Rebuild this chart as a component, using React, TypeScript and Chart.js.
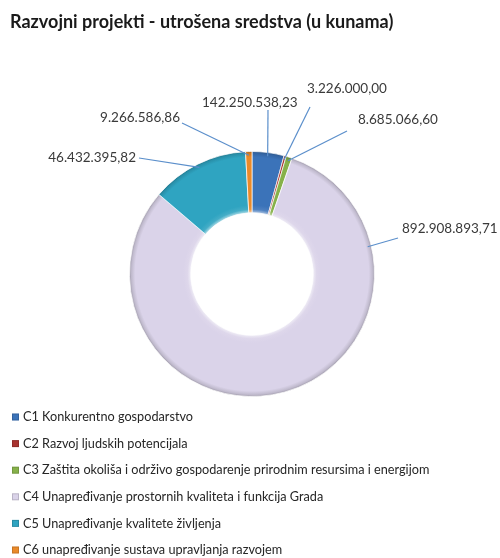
import React, { useEffect, useRef } from "react";
import { Chart, registerables } from "chart.js";

Chart.register(...registerables);

const TITLE = "Razvojni projekti - utrošena sredstva (u kunama)";

const categories = [
  "C1 Konkurentno gospodarstvo",
  "C2 Razvoj ljudskih potencijala",
  "C3 Zaštita okoliša i održivo gospodarenje prirodnim resursima i energijom",
  "C4 Unapređivanje prostornih kvaliteta i funkcija Grada",
  "C5 Unapređivanje kvalitete življenja",
  "C6 unapređivanje sustava upravljanja razvojem",
];

// slice sizes as drawn in the picture
const sliceValues = [46432395.82, 3226000.0, 8685066.6, 892908893.71, 142250538.23, 9266586.86];

// data labels as printed next to each slice
const labelTexts = [
  "142.250.538,23",
  "3.226.000,00",
  "8.685.066,60",
  "892.908.893,71",
  "46.432.395,82",
  "9.266.586,86",
];

const colors = ["#3B73B9", "#A8332F", "#86B14A", "#DAD3E9", "#2FA4C1", "#EA8A2A"];

// label layout relative to doughnut centre: [textX, textY, align, leaderX, leaderY, anchorFraction]
const labelLayout: [number, number, CanvasTextAlign, number, number, number][] = [
  [-50, -171, "left", 16, -164, 0.5],
  [55, -185, "left", 58, -167, 0.5],
  [106, -154, "left", 95, -143, 0.5],
  [150, -45, "left", 146, -36, 0.198],
  [-116, -116, "right", -113, -116, 0.5],
  [-72, -156, "right", -70, -151, 0.5],
];

const FONT = "Lato, 'Open Sans', sans-serif";

function shade(hex: string, f: number): string {
  const n = parseInt(hex.slice(1), 16);
  let r = (n >> 16) & 255, g = (n >> 8) & 255, b = n & 255;
  if (f >= 0) {
    r = r + (255 - r) * f; g = g + (255 - g) * f; b = b + (255 - b) * f;
  } else {
    r = r * (1 + f); g = g * (1 + f); b = b * (1 + f);
  }
  return `rgb(${Math.round(r)},${Math.round(g)},${Math.round(b)})`;
}

const overlay = {
  id: "overlay",
  afterDraw(chart: any) {
    const ctx = chart.ctx as CanvasRenderingContext2D;
    ctx.save();
    // title
    ctx.fillStyle = "#1a1a1a";
    ctx.font = `bold 18px ${FONT}`;
    ctx.textAlign = "left";
    ctx.textBaseline = "middle";
    ctx.fillText(TITLE, 10, 22);

    // data labels
    const meta = chart.getDatasetMeta(0);
    meta.data.forEach((arc: any, i: number) => {
      const p = arc.getProps(["x", "y", "startAngle", "endAngle", "outerRadius"], true);
      const [tx, ty, align, lx, ly, frac] = labelLayout[i];
      const a = p.startAngle + frac * (p.endAngle - p.startAngle);
      const r = p.outerRadius * 0.97;
      const ax = p.x + Math.cos(a) * r;
      const ay = p.y + Math.sin(a) * r;
      ctx.strokeStyle = "#5B8FCB";
      ctx.lineWidth = 1.2;
      ctx.beginPath();
      ctx.moveTo(p.x + lx, p.y + ly);
      ctx.lineTo(ax, ay);
      ctx.stroke();
      ctx.fillStyle = "#3a3a3a";
      ctx.font = `13.5px ${FONT}`;
      ctx.textAlign = align;
      ctx.textBaseline = "middle";
      ctx.fillText(labelTexts[i], p.x + tx, p.y + ty);
    });

    // legend
    const y0 = 417;
    const step = 26.6;
    categories.forEach((c, i) => {
      const y = y0 + i * step;
      ctx.fillStyle = colors[i];
      ctx.fillRect(12, y - 3.5, 7, 7);
      ctx.strokeStyle = "rgba(0,0,0,0.15)";
      ctx.lineWidth = 1;
      ctx.strokeRect(12.5, y - 3, 6, 6);
      ctx.fillStyle = "#262626";
      ctx.font = `12.7px ${FONT}`;
      ctx.textAlign = "left";
      ctx.textBaseline = "middle";
      ctx.fillText(c, 23, y);
    });
    ctx.restore();
  },
};

export default function App() {
  const ref = useRef<HTMLCanvasElement>(null);
  useEffect(() => {
    if (!ref.current) return;
    const chart = new Chart(ref.current, {
      type: "doughnut",
      data: {
        labels: categories,
        datasets: [
          {
            data: sliceValues,
            backgroundColor: (c: any) => {
              const base = colors[c.dataIndex];
              const area = c.chart.chartArea;
              if (!area) return base;
              const cx = (area.left + area.right) / 2;
              const cy = (area.top + area.bottom) / 2;
              const outer = Math.min(area.right - area.left, area.bottom - area.top) / 2;
              const inner = outer * 0.5;
              const g = c.chart.ctx.createRadialGradient(cx, cy, inner, cx, cy, outer);
              g.addColorStop(0, shade(base, 0.55));
              g.addColorStop(0.05, shade(base, 0.1));
              g.addColorStop(0.12, base);
              g.addColorStop(0.9, base);
              g.addColorStop(0.96, shade(base, -0.12));
              g.addColorStop(1, shade(base, -0.3));
              return g;
            },
            borderColor: "rgba(255,255,255,0.7)",
            borderWidth: 1,
          },
        ],
      },
      options: {
        responsive: false,
        animation: false,
        cutout: "50%",
        layout: { padding: { left: 129, right: 125, top: 151, bottom: 161 } },
        plugins: {
          legend: { display: false },
          title: { display: false },
          tooltip: { enabled: false },
        },
      },
      plugins: [overlay],
    });
    return () => chart.destroy();
  }, []);
  return (
    <div style={{ position: "absolute", left: 0, top: 0, width: 500, height: 558, background: "#fff" }}>
      <canvas ref={ref} width={500} height={558} style={{ width: 500, height: 558 }} />
    </div>
  );
}
